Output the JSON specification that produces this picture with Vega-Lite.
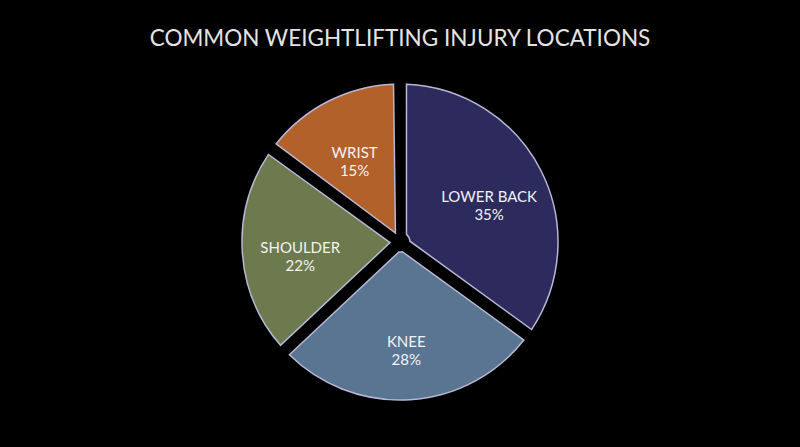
{
  "$schema": "https://vega.github.io/schema/vega-lite/v6.json",
  "autosize": "none",
  "width": 800,
  "height": 324,
  "padding": {"top": 80, "left": 0, "right": 0, "bottom": 43},
  "background": "#000000",
  "title": {
    "text": "COMMON WEIGHTLIFTING INJURY LOCATIONS",
    "frame": "group",
    "anchor": "middle",
    "orient": "top",
    "baseline": "alphabetic",
    "offset": 12,
    "font": "Lato",
    "fontSize": 22.5,
    "fontWeight": "normal",
    "color": "#e4e4e4"
  },
  "config": {"view": {"stroke": null}},
  "data": {
    "values": [
      {"order": 1, "location": "LOWER BACK", "percent": 35, "label": ["LOWER BACK", "35%"]},
      {"order": 2, "location": "KNEE", "percent": 28, "label": ["KNEE", "28%"]},
      {"order": 3, "location": "SHOULDER", "percent": 22, "label": ["SHOULDER", "22%"]},
      {"order": 4, "location": "WRIST", "percent": 15, "label": ["WRIST", "15%"]}
    ]
  },
  "encoding": {
    "theta": {"field": "percent", "type": "quantitative", "stack": true},
    "order": {"field": "order", "type": "quantitative"}
  },
  "layer": [
    {
      "mark": {"type": "arc", "outerRadius": 158, "innerRadius": 10, "padAngle": 0.082, "stroke": "#b9b7d6", "strokeWidth": 1.5},
      "encoding": {
        "color": {
          "field": "location",
          "type": "nominal",
          "scale": {
            "domain": ["LOWER BACK", "KNEE", "SHOULDER", "WRIST"],
            "range": ["#2d2a5e", "#5a7591", "#6c7a4e", "#b3612b"]
          },
          "legend": null
        }
      }
    },
    {
      "mark": {"type": "text", "radius": 100, "font": "Lato", "fontSize": 15, "lineHeight": 18, "color": "#f2f2f2", "align": "center", "baseline": "middle"},
      "encoding": {
        "text": {"field": "label"}
      }
    }
  ]
}
